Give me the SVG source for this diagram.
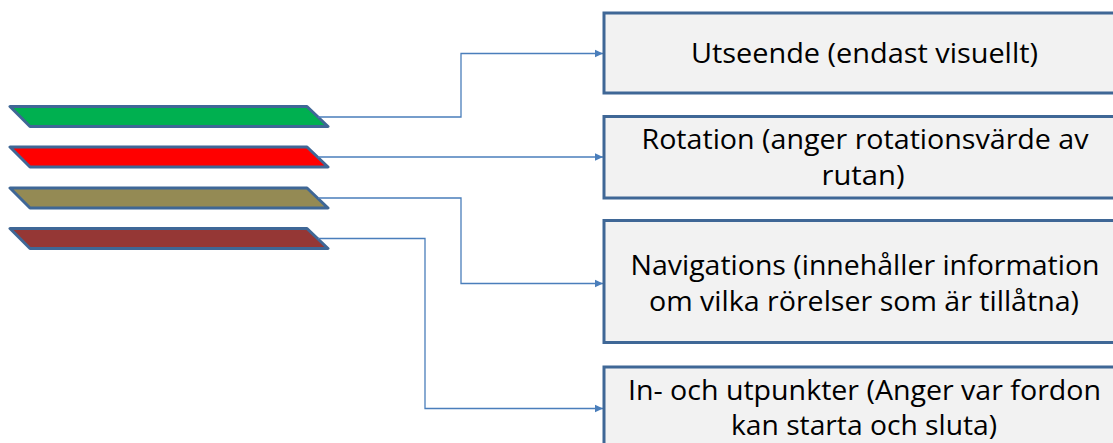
<svg xmlns="http://www.w3.org/2000/svg" width="1113" height="443" viewBox="0 0 1113 443">
  <style>
    .bar { stroke: #3F6796; stroke-width: 3; stroke-linejoin: round; }
    .box { fill: #F2F2F2; stroke: #3F6796; stroke-width: 3; }
    .lbl { font-family: "Open Sans", "Lato", sans-serif; font-size: 28px; fill: #000000; text-anchor: middle; font-variant-ligatures: none; font-feature-settings: "liga" 0, "clig" 0; }
    .conn { fill: none; stroke: #4A7EBB; stroke-width: 1.3; marker-end: url(#arrow); }
  </style>
  <defs>
    <marker id="arrow" markerWidth="9" markerHeight="9" refX="8.5" refY="4.5" orient="auto" markerUnits="userSpaceOnUse">
      <path d="M0,0.5 L8.5,4.5 L0,8.5 z" fill="#4A7EBB"/>
    </marker>
  </defs>
  <rect x="0" y="0" width="1113" height="443" fill="#FFFFFF"/>

  <g id="bar-green">
    <polygon class="bar" fill="#00B050" points="10,106.5 307,106.5 328,126.5 30,126.5"/>
  </g>
  <g id="bar-red">
    <polygon class="bar" fill="#FF0000" points="10,147 307,147 328,167 30,167"/>
  </g>
  <g id="bar-olive">
    <polygon class="bar" fill="#948A54" points="10,188 307,188 328,208 30,208"/>
  </g>
  <g id="bar-brown">
    <polygon class="bar" fill="#953735" points="10,228.5 307,228.5 328,248.5 30,248.5"/>
  </g>

  <g id="connectors">
    <path class="conn" d="M318,117 H461 V53.5 H603"/>
    <path class="conn" d="M318,157 H603"/>
    <path class="conn" d="M318,198 H461 V283.5 H603"/>
    <path class="conn" d="M318,238.5 H425 V408.5 H603"/>
  </g>

  <g id="box-utseende">
    <rect class="box" x="604" y="13" width="530" height="80"/>
    <text class="lbl" x="864.5" y="63" textLength="347" lengthAdjust="spacingAndGlyphs">Utseende (endast visuellt)</text>
  </g>
  <g id="box-rotation">
    <rect class="box" x="604" y="116.5" width="530" height="81.5"/>
    <text class="lbl" x="865" y="148.5" textLength="447" lengthAdjust="spacingAndGlyphs">Rotation (anger rotationsvärde av</text>
    <text class="lbl" x="863" y="185" textLength="83" lengthAdjust="spacingAndGlyphs">rutan)</text>
  </g>
  <g id="box-navigations">
    <rect class="box" x="604" y="220.5" width="530" height="122"/>
    <text class="lbl" x="865" y="274.5" textLength="469" lengthAdjust="spacingAndGlyphs">Navigations (innehåller information</text>
    <text class="lbl" x="864" y="311" textLength="430" lengthAdjust="spacingAndGlyphs">om vilka rörelser som är tillåtna)</text>
  </g>
  <g id="box-inut">
    <rect class="box" x="604" y="367" width="530" height="90"/>
    <text class="lbl" x="864.5" y="399.5" textLength="473" lengthAdjust="spacingAndGlyphs">In- och utpunkter (Anger var fordon</text>
    <text class="lbl" x="864" y="435" textLength="266" lengthAdjust="spacingAndGlyphs">kan starta och sluta)</text>
  </g>
</svg>
